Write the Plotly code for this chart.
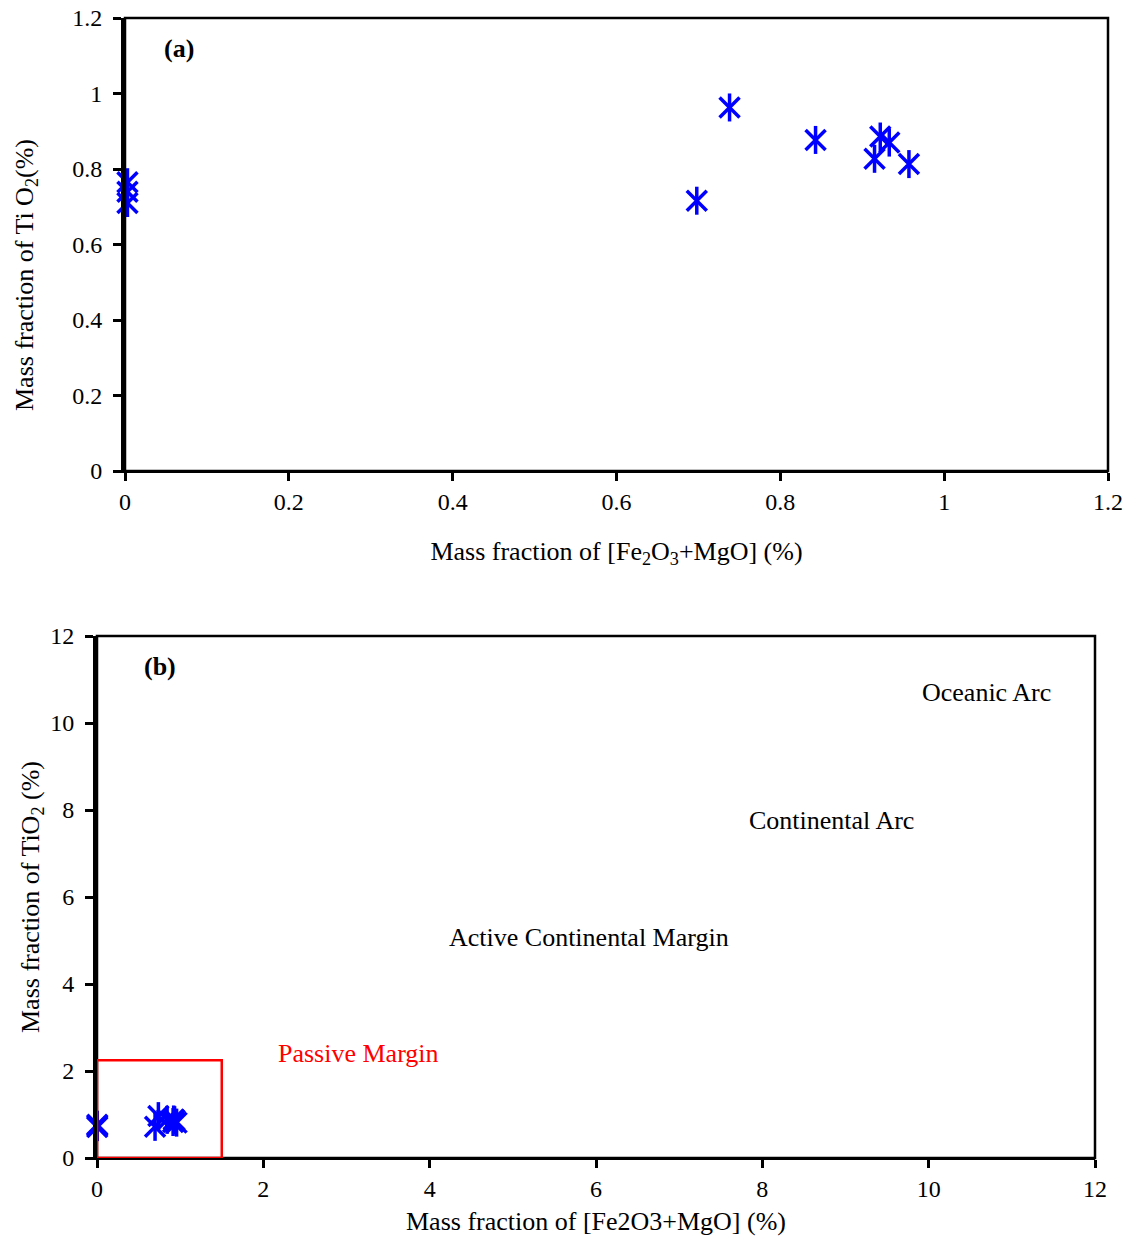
import plotly.graph_objects as go

# ---- data ----
fe2o3_mgo = [0.003, 0.003, 0.003, 0.698, 0.738, 0.843, 0.922, 0.933, 0.915, 0.957]
tio2 = [0.765, 0.740, 0.710, 0.716, 0.963, 0.877, 0.886, 0.870, 0.827, 0.813]

top_ticks = [0, 0.2, 0.4, 0.6, 0.8, 1, 1.2]
top_ticklabels = ["0", "0.2", "0.4", "0.6", "0.8", "1", "1.2"]
bot_ticks = [0, 2, 4, 6, 8, 10, 12]
bot_ticklabels = ["0", "2", "4", "6", "8", "10", "12"]

region_names = ["Oceanic Arc", "Continental Arc", "Active Continental Margin", "Passive Margin"]
region_x = [10.7, 8.83, 5.92, 3.15]
region_y = [10.7, 7.75, 5.08, 2.41]
region_colors = ["black", "black", "black", "red"]

passive_box_x = [0, 1.5]
passive_box_y = [0, 2.25]

FONT = "Liberation Serif, Times New Roman, serif"
BLUE = "#0000ff"
OFF = 8  # page body margin
W, H = 1141 - OFF, 1236 - OFF


def dx(px):
    return (px - OFF) / W


def dy(py):
    return (OFF + H - py) / H


fig = go.Figure()

for xa, ya in [("x", "y"), ("x2", "y2")]:
    fig.add_trace(go.Scatter(x=fe2o3_mgo, y=tio2, mode="markers", xaxis=xa, yaxis=ya,
                             marker=dict(symbol="x-thin-open", size=20, color=BLUE,
                                         line=dict(color=BLUE, width=3.5)),
                             cliponaxis=False, showlegend=False, hoverinfo="x+y"))
    fig.add_trace(go.Scatter(x=fe2o3_mgo, y=tio2, mode="markers", xaxis=xa, yaxis=ya,
                             marker=dict(symbol="line-ns-open", size=20, color=BLUE,
                                         line=dict(color=BLUE, width=3.5)),
                             cliponaxis=False, showlegend=False, hoverinfo="skip"))

top_x = [dx(125), dx(1108)]
top_y = [dy(471), dy(18)]
bot_x = [dx(97), dx(1095)]
bot_y = [dy(1158), dy(636)]

tickfont = dict(family=FONT, size=24, color="black")
titlefont = dict(family=FONT, size=26, color="black")

common = dict(showgrid=False, zeroline=False, ticks="outside", ticklen=8, tickwidth=2.5,
              tickcolor="black", tickfont=tickfont, showline=True, linecolor="black",
              automargin=False, ticklabeloverflow="allow")

fig.update_layout(
    width=W, height=H,
    margin=dict(l=0, r=0, t=0, b=0),
    paper_bgcolor="white", plot_bgcolor="white",
    showlegend=False,
    xaxis=dict(domain=top_x, range=[0, 1.2], tickvals=top_ticks, ticktext=top_ticklabels,
               linewidth=2, anchor="y", ticklabelstandoff=0,
               title=dict(text="Mass fraction of [Fe<sub>2</sub>O<sub>3</sub>+MgO] (%)",
                          font=titlefont, standoff=28), **common),
    yaxis=dict(domain=top_y, range=[0, 1.2], tickvals=top_ticks, ticktext=top_ticklabels,
               linewidth=4, anchor="x", ticklabelstandoff=6, **common),
    xaxis2=dict(domain=bot_x, range=[0, 12], tickvals=bot_ticks, ticktext=bot_ticklabels,
                linewidth=2, anchor="y2", ticklabelstandoff=0,
                title=dict(text="Mass fraction of [Fe2O3+MgO] (%)", font=titlefont, standoff=11),
                **common),
    yaxis2=dict(domain=bot_y, range=[0, 12], tickvals=bot_ticks, ticktext=bot_ticklabels,
                linewidth=4, anchor="x2", ticklabelstandoff=6, **common),
    # overlay axes producing inward half of crossing ticks
    xaxis3=dict(overlaying="x", matches="x", anchor="y", side="bottom", ticks="inside", ticklen=8,
                tickwidth=2.5, tickcolor="black", tickvals=top_ticks, showticklabels=False,
                showline=False, showgrid=False, zeroline=False),
    yaxis3=dict(overlaying="y", matches="y", anchor="x", side="left", ticks="inside", ticklen=8,
                tickwidth=2.5, tickcolor="black", tickvals=top_ticks, showticklabels=False,
                showline=False, showgrid=False, zeroline=False),
    xaxis4=dict(overlaying="x2", matches="x2", anchor="y2", side="bottom", ticks="inside", ticklen=8,
                tickwidth=2.5, tickcolor="black", tickvals=bot_ticks, showticklabels=False,
                showline=False, showgrid=False, zeroline=False),
    yaxis4=dict(overlaying="y2", matches="y2", anchor="x2", side="left", ticks="inside", ticklen=8,
                tickwidth=2.5, tickcolor="black", tickvals=bot_ticks, showticklabels=False,
                showline=False, showgrid=False, zeroline=False),
)

# y-axis titles (placed as in the reference, slightly off-centre)
fig.add_annotation(text="Mass fraction of Ti O<sub>2</sub>(%)", textangle=-90,
                   xref="paper", yref="paper", x=dx(26), y=dy(275),
                   xanchor="center", yanchor="middle", showarrow=False, font=titlefont)
fig.add_annotation(text="Mass fraction of TiO<sub>2</sub> (%)", textangle=-90,
                   xref="paper", yref="paper", x=dx(32), y=dy(897),
                   xanchor="center", yanchor="middle", showarrow=False, font=titlefont)

# frames (top & right borders)
for xr, yr in [("x domain", "y domain"), ("x2 domain", "y2 domain")]:
    fig.add_shape(type="rect", xref=xr, yref=yr, x0=0, x1=1, y0=0, y1=1,
                  line=dict(color="black", width=2.5), layer="above")

# passive margin box
fig.add_shape(type="rect", xref="x2", yref="y2",
              x0=passive_box_x[0], x1=passive_box_x[1], y0=passive_box_y[0], y1=passive_box_y[1],
              line=dict(color="red", width=2.5), layer="above")

# panel labels
fig.add_annotation(text="<b>(a)</b>", xref="x", yref="y", x=0.066, y=1.12, showarrow=False,
                   font=dict(family=FONT, size=26, color="black"))
fig.add_annotation(text="<b>(b)</b>", xref="x2", yref="y2", x=0.76, y=11.3, showarrow=False,
                   font=dict(family=FONT, size=26, color="black"))

for name, xv, yv, col in zip(region_names, region_x, region_y, region_colors):
    fig.add_annotation(text=name, xref="x2", yref="y2", x=xv, y=yv, showarrow=False,
                       font=dict(family=FONT, size=26, color=col))

fig.write_html("out.html")
